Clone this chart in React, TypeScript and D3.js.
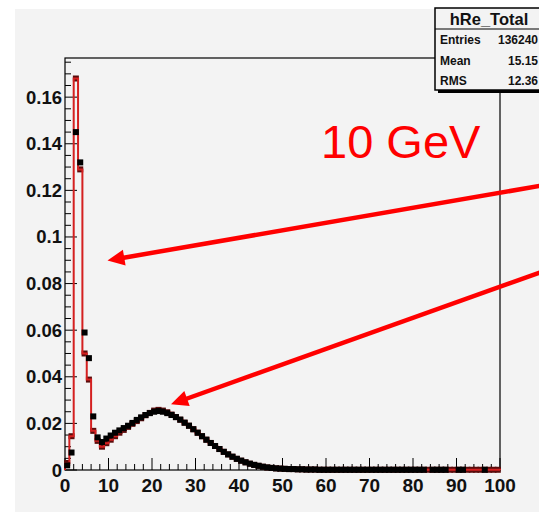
import React from "react";
import * as d3 from "d3";

// ---- data (bin i covers [i, i+1]) ----
const blackValues: (number | null)[] = [
  0.002, 0.0075, 0.145, 0.132, 0.059, 0.048, 0.023, 0.014, 0.012, 0.0135,
  0.0148, 0.016, 0.017, 0.018, 0.019, 0.0202, 0.0215, 0.0226, 0.0236, 0.0244,
  0.025, 0.0253, 0.025, 0.0244, 0.0236, 0.0227, 0.0216, 0.0203, 0.019, 0.0175,
  0.016, 0.0145, 0.013, 0.0116, 0.0103, 0.009, 0.0078, 0.0067, 0.0057, 0.0048,
  0.004, 0.0033, 0.0027, 0.0022, 0.0018, 0.0014, 0.0011, 0.0009, 0.0007, 0.0006,
  0.0005, 0.0004, 0.0004, 0.0003, 0.0003, 0.0002, 0.0002, 0.0002, 0.0001, 0.0001,
  0.0001, 0.0001, 0.0001, 0.0001, 0.0001, 0.0001, 0.0001, 0.0001, 0.0001, 0.0001,
  0.0001, 0.0001, 0.0001, 0.0001, 0.0001, 0.0001, 0.0001, 0.0001, 0.0001, 0.0001,
  0.0001, 0.0001, 0.0001, null, 0.0001, 0.0001, 0.0001, 0.0001, null, null,
  0.0001, 0.0001, null, null, null, null, 0.0001, null, null, null,
];

const redValues: number[] = [
  0.003, 0.0145, 0.168, 0.129, 0.05, 0.0388, 0.0168, 0.0125, 0.01, 0.0115,
  0.013, 0.0145, 0.016, 0.0172, 0.0185, 0.0198, 0.021, 0.0222, 0.0235, 0.0245,
  0.0255, 0.0258, 0.0255, 0.0248, 0.0238, 0.0227, 0.0216, 0.0203, 0.019, 0.0175,
  0.016, 0.0145, 0.013, 0.0116, 0.0103, 0.009, 0.0078, 0.0067, 0.0057, 0.0048,
  0.004, 0.0033, 0.0027, 0.0022, 0.0018, 0.0014, 0.0011, 0.0009, 0.0007, 0.0006,
  0.0005, 0.0004, 0.0004, 0.0003, 0.0003, 0.0002, 0.0002, 0.0002, 0.0001, 0.0001,
  0.0001, 0.0001, 0.0001, 0.0001, 0.0001, 0.0001, 0.0001, 0.0001, 0.0001, 0.0001,
  0.0001, 0.0001, 0.0001, 0.0001, 0.0001, 0.0001, 0.0001, 0.0001, 0.0001, 0.0001,
  0.0001, 0.0001, 0.0001, 0.0001, 0.0001, 0.0001, 0.0001, 0.0001, 0.0001, 0.0001,
  0.0001, 0.0001, 0.0001, 0.0001, 0.0001, 0.0001, 0.0001, 0.0001, 0.0001, 0.0001,
];

const yTickLabels = ["0", "0.02", "0.04", "0.06", "0.08", "0.1", "0.12", "0.14", "0.16"];
const xTickLabels = ["0", "10", "20", "30", "40", "50", "60", "70", "80", "90", "100"];
const statTitle = "hRe_Total";
const statRows = [
  ["Entries", "136240"],
  ["Mean", "15.15"],
  ["RMS", "12.36"],
];
const annotation = "10 GeV";

const W = 539;
const H = 518;
const FL = 65, FR = 500, FT = 58, FB = 470;
const FONT = "'Liberation Sans', Arial, Helvetica, sans-serif";

export default function App() {
  const x = d3.scaleLinear().domain([0, 100]).range([FL, FR]);
  const y = d3.scaleLinear().domain([0, 0.1768]).range([FB, FT]);

  // red step path
  const stepPts: [number, number][] = [[0, 0]];
  redValues.forEach((v, i) => {
    stepPts.push([i, v]);
    stepPts.push([i + 1, v]);
  });
  stepPts.push([100, 0]);
  const stepPath = d3
    .line<[number, number]>()
    .x((d) => x(d[0]))
    .y((d) => y(d[1]))(stepPts) as string;

  const yMinor = d3.range(0, 0.1751, 0.005);
  const xMinor = d3.range(0, 100.1, 2);
  const ms = 6;

  const arrow = (x1: number, y1: number, x2: number, y2: number) => {
    const ang = Math.atan2(y2 - y1, x2 - x1);
    const L = 17, Wd = 8;
    const bx = x2 - L * Math.cos(ang);
    const by = y2 - L * Math.sin(ang);
    const px = -Math.sin(ang), py = Math.cos(ang);
    const pts = [
      [x2, y2],
      [bx + Wd * px, by + Wd * py],
      [bx - Wd * px, by - Wd * py],
    ];
    return (
      <g>
        <line x1={x1} y1={y1} x2={bx + 2 * Math.cos(ang)} y2={by + 2 * Math.sin(ang)} stroke="#ff0000" strokeWidth={4.5} />
        <polygon points={pts.map((p) => p.join(",")).join(" ")} fill="#ff0000" />
      </g>
    );
  };

  return (
    <svg width={W} height={H} style={{ position: "absolute", left: 0, top: 0 }} fontFamily={FONT}>
      <rect x={0} y={0} width={W} height={H} fill="#ffffff" />
      <rect x={15} y={9} width={W - 15} height={503} fill="#f3f3f3" />

      {/* frame */}
      <rect x={FL} y={FT} width={FR - FL} height={FB - FT} fill="none" stroke="#000" strokeWidth={1.2} />

      {/* y ticks */}
      {yMinor.map((v, i) => {
        const major = Math.abs(v / 0.02 - Math.round(v / 0.02)) < 1e-6;
        return <line key={"ym" + i} x1={FL} x2={FL + (major ? 12 : 6)} y1={y(v)} y2={y(v)} stroke="#000" strokeWidth={1} />;
      })}
      {yTickLabels.map((t) => (
        <text key={"yl" + t} x={FL - 3} y={y(+t)} textAnchor="end" dominantBaseline="central" fontSize={18.5} fontWeight="bold" fill="#111">
          {t}
        </text>
      ))}

      {/* x ticks */}
      {xMinor.map((v, i) => {
        const major = Math.abs(v % 10) < 1e-6;
        return <line key={"xm" + i} x1={x(v)} x2={x(v)} y1={FB} y2={FB - (major ? 12 : 6)} stroke="#000" strokeWidth={1} />;
      })}
      {xTickLabels.map((t) => (
        <text key={"xl" + t} x={x(+t)} y={492} textAnchor="middle" fontSize={19} fontWeight="bold" fill="#111">
          {t}
        </text>
      ))}

      {/* red histogram markers */}
      {redValues.map((v, i) => (
        <rect key={"rm" + i} x={x(i + 0.5) - ms / 2} y={y(v) - ms / 2} width={ms} height={ms} fill="#5a0c0c" />
      ))}
      {/* red histogram */}
      <path d={stepPath} fill="none" stroke="#d42020" strokeWidth={2} />
      {/* black markers */}
      {blackValues.map((v, i) =>
        v === null ? null : (
          <rect key={"bm" + i} x={x(i + 0.5) - ms / 2} y={y(v) - ms / 2} width={ms} height={ms} fill="#000" />
        )
      )}

      {/* stats box */}
      <rect x={438} y={11} width={120} height={82} fill="#000" />
      <rect x={435} y={8} width={120} height={82} fill="#f3f3f3" stroke="#000" strokeWidth={1.5} />
      <line x1={435} x2={W} y1={29} y2={29} stroke="#000" strokeWidth={1.2} />
      <text x={489} y={19} textAnchor="middle" dominantBaseline="central" fontSize={16.5} fontWeight="bold" fill="#111">
        {statTitle}
      </text>
      {statRows.map((r, i) => (
        <g key={"sr" + i}>
          <text x={440} y={40 + i * 20.7} dominantBaseline="central" fontSize={12} fontWeight="bold" fill="#111">
            {r[0]}
          </text>
          <text x={538} y={40 + i * 20.7} textAnchor="end" dominantBaseline="central" fontSize={12} fontWeight="bold" fill="#111">
            {r[1]}
          </text>
        </g>
      ))}

      {/* annotation */}
      <text x={321} y={158} fontSize={47} fill="#ff0000">
        {annotation}
      </text>
      {arrow(545, 185, 107.5, 260.5)}
      {arrow(545, 270.7, 171, 404.3)}
    </svg>
  );
}
